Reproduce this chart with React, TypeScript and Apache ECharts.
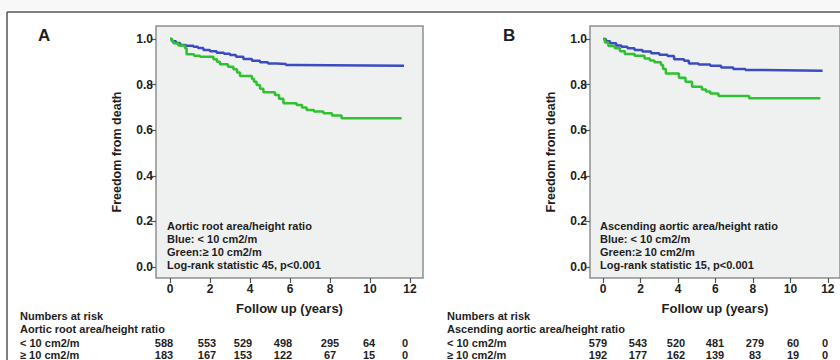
import React, { useEffect, useRef } from "react";
import * as echarts from "echarts";

// ---- data ----
const xTicks = [0, 2, 4, 6, 8, 10, 12];
const yTicks = [0, 0.2, 0.4, 0.6, 0.8, 1.0];

// Panel A: Aortic root area/height ratio
const aBlue: [number, number][] = [
  [0, 1.0], [0.1, 0.99], [0.3, 0.982], [0.5, 0.974], [0.8, 0.97], [1.17, 0.966],
  [1.4, 0.96], [1.67, 0.952], [2.0, 0.946], [2.33, 0.94], [2.7, 0.935], [3.0, 0.93],
  [3.3, 0.922], [3.67, 0.912], [4.1, 0.905], [4.5, 0.898], [4.9, 0.893], [5.33, 0.89],
  [5.8, 0.886], [6.17, 0.883], [11.7, 0.883],
];
const aGreen: [number, number][] = [
  [0, 1.0], [0.1, 0.99], [0.17, 0.981], [0.42, 0.971], [0.75, 0.959], [0.83, 0.933],
  [1.2, 0.927], [1.5, 0.922], [2.17, 0.911], [2.35, 0.9], [2.5, 0.889], [2.9, 0.878],
  [3.17, 0.867], [3.35, 0.853], [3.5, 0.838], [4.1, 0.825], [4.2, 0.812], [4.33, 0.798],
  [4.5, 0.782], [4.67, 0.766], [5.25, 0.754], [5.45, 0.738], [5.67, 0.718], [6.33, 0.711],
  [6.6, 0.7], [6.83, 0.689], [7.2, 0.682], [7.67, 0.674], [8.1, 0.665], [8.58, 0.652],
  [11.58, 0.652],
];
// Panel B: Ascending aortic area/height ratio
const bBlue: [number, number][] = [
  [0, 1.0], [0.15, 0.99], [0.37, 0.981], [0.7, 0.972], [0.98, 0.966], [1.3, 0.959],
  [1.68, 0.952], [2.1, 0.945], [2.56, 0.937], [3.0, 0.931], [3.44, 0.925], [3.79, 0.911],
  [4.32, 0.905], [4.58, 0.893], [5.1, 0.888], [5.72, 0.883], [6.3, 0.875], [6.95, 0.868],
  [7.6, 0.864], [8.53, 0.861], [11.72, 0.861],
];
const bGreen: [number, number][] = [
  [0, 1.0], [0.1, 0.985], [0.28, 0.969], [0.63, 0.959], [0.9, 0.946], [1.16, 0.934],
  [1.68, 0.927], [2.21, 0.915], [2.5, 0.906], [2.74, 0.898], [3.09, 0.886], [3.2, 0.868],
  [3.35, 0.849], [4.05, 0.83], [4.4, 0.813], [4.75, 0.791], [5.28, 0.779], [5.5, 0.77],
  [5.72, 0.761], [6.16, 0.75], [7.8, 0.74], [11.6, 0.74],
];

const riskALow = [588, 553, 529, 498, 295, 64, 0];
const riskAHigh = [183, 167, 153, 122, 67, 15, 0];
const riskBLow = [579, 543, 520, 481, 279, 60, 0];
const riskBHigh = [192, 177, 162, 139, 83, 19, 0];

const panelATitle = "Aortic root area/height ratio";
const panelBTitle = "Ascending aortic area/height ratio";
const statA = "Log-rank statistic 45, p<0.001";
const statB = "Log-rank statistic 15, p<0.001";

// ---- layout ----
const FONT = '"Liberation Sans", Arial, sans-serif';
const TXT = "#1e1e1e";
const BLUE = "#3b4cc0";
const GREEN = "#2fc12f";
const riskColA = [164, 207, 243, 283, 330, 369, 405];
const riskColB = [598, 638, 676, 715, 755, 793, 825];
const riskRowY = [316, 329, 342.5, 354.5];

function txt(text: string, x: number, y: number, size = 11, align = "left") {
  return {
    type: "text",
    x,
    y,
    silent: true,
    style: {
      text,
      fill: TXT,
      font: `bold ${size}px ${FONT}`,
      align,
      verticalAlign: "middle",
    },
  };
}

function xAxis(gridIndex: number) {
  return {
    type: "value",
    gridIndex,
    min: -0.7,
    max: 12.65,
    axisLine: { show: false, onZero: false },
    splitLine: { show: false },
    axisTick: {
      show: true,
      customValues: xTicks,
      length: 5,
      lineStyle: { color: "#555", width: 1.2 },
    },
    axisLabel: {
      customValues: xTicks,
      margin: 5,
      fontSize: 12,
      fontWeight: "bold",
      color: TXT,
      fontFamily: FONT,
    },
    name: "Follow up (years)",
    nameLocation: "middle",
    nameGap: 24,
    nameTextStyle: { fontSize: 13, fontWeight: "bold", color: TXT, fontFamily: FONT },
  };
}

function yAxis(gridIndex: number) {
  return {
    type: "value",
    gridIndex,
    min: -0.048,
    max: 1.057,
    axisLine: { show: false, onZero: false },
    splitLine: { show: false },
    axisTick: {
      show: true,
      customValues: yTicks,
      length: 5,
      lineStyle: { color: "#555", width: 1.2 },
    },
    axisLabel: {
      customValues: yTicks,
      margin: 3,
      fontSize: 12,
      fontWeight: "bold",
      color: TXT,
      fontFamily: FONT,
      formatter: (v: number) => v.toFixed(1),
    },
    name: "Freedom from death",
    nameLocation: "middle",
    nameGap: 33,
    nameTextStyle: { fontSize: 12.5, fontWeight: "bold", color: TXT, fontFamily: FONT },
  };
}

function km(data: [number, number][], color: string, idx: number) {
  return {
    type: "line",
    xAxisIndex: idx,
    yAxisIndex: idx,
    step: "end",
    data,
    showSymbol: false,
    symbol: "none",
    lineStyle: { color, width: 2.5 },
    silent: true,
  };
}

export default function App() {
  const ref = useRef<HTMLDivElement>(null);
  useEffect(() => {
    if (!ref.current) return;
    const chart = echarts.init(ref.current, null, { renderer: "svg" });
    const gridBase = {
      top: 26,
      height: 252,
      show: true,
      backgroundColor: "#eff0f0",
      borderColor: "#8e8e8e",
      borderWidth: 1.5,
    };
    const graphic: any[] = [
      { type: "rect", shape: { x: 0, y: 0, width: 840, height: 10 }, style: { fill: "#f8f8f8" }, silent: true },
      { type: "line", shape: { x1: 7, y1: 12, x2: 840, y2: 12 }, style: { stroke: "#555", lineWidth: 1.5 } },
      { type: "line", shape: { x1: 7, y1: 12, x2: 7, y2: 360 }, style: { stroke: "#555", lineWidth: 1.5 } },
      txt("A", 38, 35, 17),
      txt("B", 503, 35, 17),
      txt(panelATitle, 167, 226),
      txt("Blue: < 10 cm2/m", 167, 239),
      txt("Green:≥ 10 cm2/m", 167, 252),
      txt(statA, 167, 265),
      txt(panelBTitle, 600, 226),
      txt("Blue: < 10 cm2/m", 600, 239),
      txt("Green:≥ 10 cm2/m", 600, 252),
      txt(statB, 600, 265),
      txt("Numbers at risk", 20, riskRowY[0]),
      txt(panelATitle, 20, riskRowY[1]),
      txt("< 10 cm2/m", 20, riskRowY[2]),
      txt("≥ 10 cm2/m", 20, riskRowY[3]),
      txt("Numbers at risk", 447, riskRowY[0]),
      txt(panelBTitle, 447, riskRowY[1]),
      txt("< 10 cm2/m", 447, riskRowY[2]),
      txt("≥ 10 cm2/m", 447, riskRowY[3]),
    ];
    riskALow.forEach((v, i) => graphic.push(txt(String(v), riskColA[i], riskRowY[2], 11, "center")));
    riskAHigh.forEach((v, i) => graphic.push(txt(String(v), riskColA[i], riskRowY[3], 11, "center")));
    riskBLow.forEach((v, i) => graphic.push(txt(String(v), riskColB[i], riskRowY[2], 11, "center")));
    riskBHigh.forEach((v, i) => graphic.push(txt(String(v), riskColB[i], riskRowY[3], 11, "center")));

    chart.setOption({
      animation: false,
      grid: [
        { ...gridBase, left: 156, width: 267 },
        { ...gridBase, left: 590, width: 254 },
      ],
      xAxis: [xAxis(0), xAxis(1)],
      yAxis: [yAxis(0), yAxis(1)],
      series: [km(aBlue, BLUE, 0), km(aGreen, GREEN, 0), km(bBlue, BLUE, 1), km(bGreen, GREEN, 1)],
      graphic,
    });
    return () => chart.dispose();
  }, []);
  return (
    <div
      ref={ref}
      style={{ position: "fixed", left: 0, top: 0, width: 840, height: 360, background: "#fff" }}
    />
  );
}
